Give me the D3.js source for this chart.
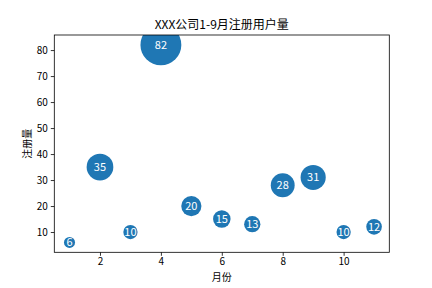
<!DOCTYPE html>
<html><head><meta charset="utf-8">
<script src="https://cdn.jsdelivr.net/npm/d3@7"></script>
<style>body{margin:0;background:#fff}svg{display:block}text{font-family:"Noto Sans CJK SC","DejaVu Sans",sans-serif}</style>
</head><body><svg id="c" width="432" height="288"></svg>
<script>
const months = [1,2,3,4,5,6,7,8,9,10,11];
const values = [6,35,10,82,20,15,13,28,31,10,12];
const xTicks = [2,4,6,8,10];
const yTicks = [10,20,30,40,50,60,70,80];
const title = "XXX公司1-9月注册用户量";
const xLabel = "月份";
const yLabel = "注册量";

const svg = d3.select("#c");
const L=54.3, R=389.3, T=35, B=252.3;
const x = d3.scaleLinear().domain([0.5,11.5]).range([L,R]);
const y = d3.scaleLinear().domain([2.2,85.8]).range([B,T]);
const r = v => Math.sqrt(16*v/Math.PI);

svg.append("clipPath").attr("id","clip").append("rect")
  .attr("x",L).attr("y",T).attr("width",R-L).attr("height",B-T);

const g = svg.append("g").attr("clip-path","url(#clip)");
const data = months.map((m,i)=>({m, v:values[i]}));
g.selectAll("circle").data(data).enter().append("circle")
  .attr("cx",d=>x(d.m)).attr("cy",d=>y(d.v)).attr("r",d=>r(d.v))
  .attr("fill","#1f77b4");
g.selectAll("text.lbl").data(data).enter().append("text").attr("class","lbl")
  .attr("x",d=>x(d.m)).attr("y",d=>y(d.v)).attr("dy","0.35em")
  .attr("text-anchor","middle").attr("fill","#fff").attr("font-size",11)
  .text(d=>d.v);

const xa = svg.append("g").attr("transform",`translate(0,${B})`)
  .call(d3.axisBottom(x).tickValues(xTicks).tickSize(3.5).tickPadding(2));
const ya = svg.append("g").attr("transform",`translate(${L},0)`)
  .call(d3.axisLeft(y).tickValues(yTicks).tickSize(3.5).tickPadding(3));
[xa,ya].forEach(a=>{a.select(".domain").remove();
  a.selectAll("text").attr("font-size",10).attr("fill","#000").style("font-family",'"Noto Sans CJK SC",sans-serif');
  a.selectAll("line").attr("stroke","#000").attr("stroke-width",0.8);});

svg.append("rect").attr("x",L).attr("y",T).attr("width",R-L).attr("height",B-T)
  .attr("fill","none").attr("stroke","#000").attr("stroke-width",0.8);

svg.append("text").attr("x",(L+R)/2).attr("y",T-6).attr("text-anchor","middle")
  .attr("font-size",12).attr("fill","#000").text(title);
svg.append("text").attr("x",(L+R)/2).attr("y",281).attr("text-anchor","middle")
  .attr("font-size",10).attr("fill","#000").text(xLabel);
svg.append("text").attr("transform",`translate(31,${(T+B)/2}) rotate(-90)`)
  .attr("text-anchor","middle").attr("font-size",10).attr("fill","#000").text(yLabel);
</script></body></html>
